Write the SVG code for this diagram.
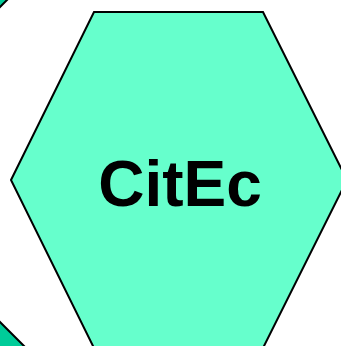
<svg xmlns="http://www.w3.org/2000/svg" width="341" height="346" viewBox="0 0 341 346">
<style>
.side{fill:#00CC99;stroke:#000;stroke-width:2}
.hex{fill:#66FFCC;stroke:#000;stroke-width:2}
.lbl{font-family:"Liberation Sans",Arial,sans-serif;font-weight:bold;font-size:64px;fill:#000}
</style>
<rect width="341" height="346" fill="#fff"/>
<g id="corner-top-left"><polygon class="side" points="-10,-10 17,-10 0,7 -10,17"/></g>
<g id="corner-bottom-left"><polygon class="side" points="-10,312 0,322 24,346 34,356 -10,356"/></g>
<g id="citec">
<polygon class="hex" points="11,180 94,12 263,12 347,180 263,348 94,348"/>
<text class="lbl" x="180" y="206" text-anchor="middle">CitEc</text>
</g>
<g id="connectors"/>
</svg>
